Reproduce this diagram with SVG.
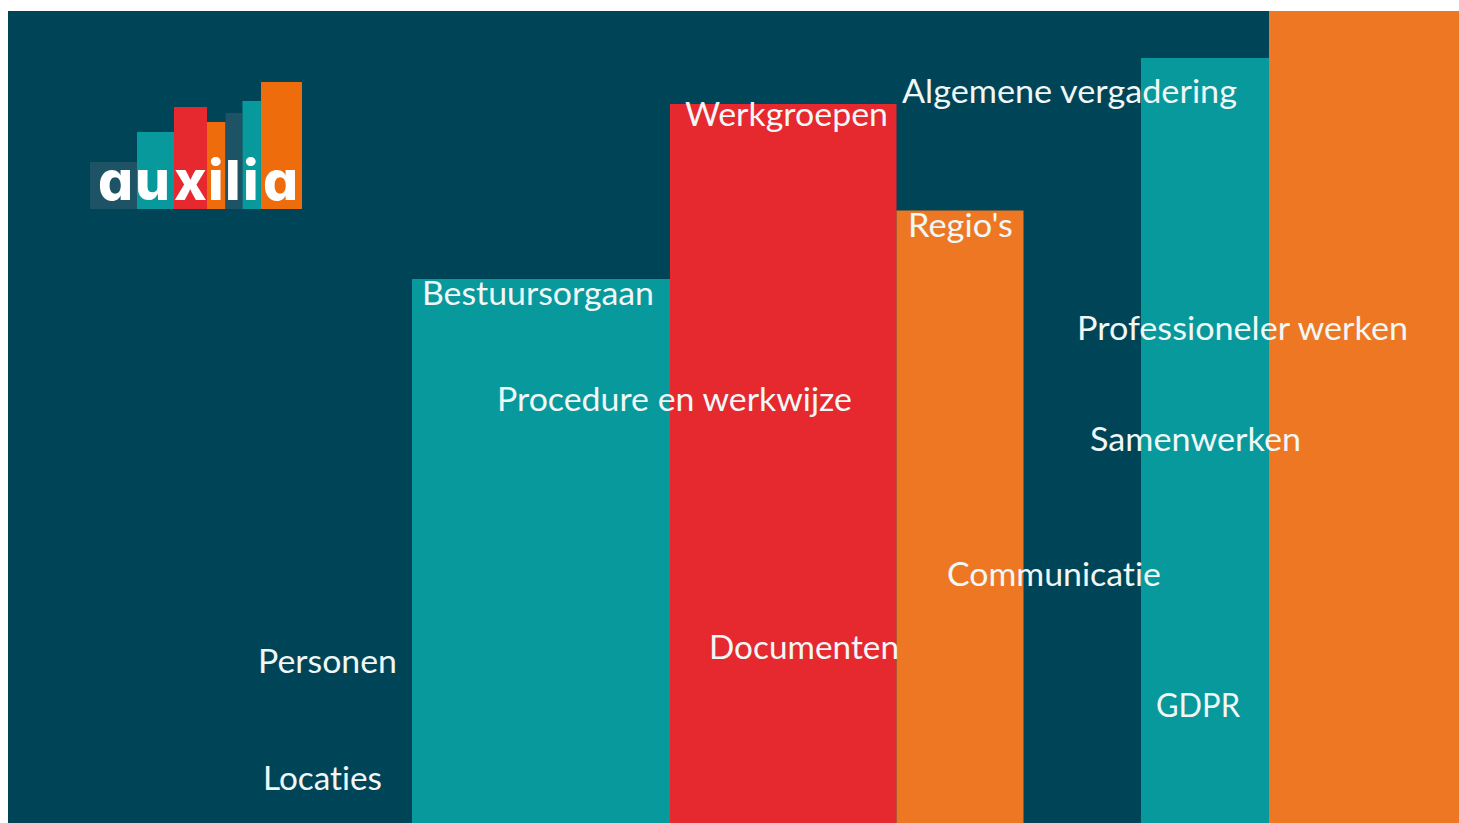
<svg xmlns="http://www.w3.org/2000/svg" width="1459" height="823" viewBox="0 0 1459 823">
<style>
.t{font-family:"Lato","Open Sans","Liberation Sans",sans-serif;font-size:33px;fill:#f0f7f7;font-variant-ligatures:none}
.teal{fill:#08999c}.red{fill:#e6282f}.org{fill:#ee7723}.dark{fill:#004557}
.lo{fill:#ee6c0b}.ld{fill:#1e5265}
.logo{font-family:"Inter","Lato","Liberation Sans",sans-serif;font-weight:800;font-size:55px;fill:#fff;font-feature-settings:"cv11"}
</style>
<rect width="1459" height="823" fill="#fff"/>
<rect class="dark" x="8" y="11" width="1451" height="812"/>
<g id="bars">
<rect class="teal" x="412" y="279" width="258" height="544"/>
<rect class="red" x="670" y="104" width="226.500" height="719"/>
<rect class="org" x="896.500" y="210.500" width="127" height="612.500"/>
<rect class="teal" x="1141" y="58" width="128" height="765"/>
<rect class="org" x="1269" y="11" width="190" height="812"/>
</g>
<g id="logo">
<rect class="ld" x="90" y="162" width="47" height="47"/>
<rect class="teal" x="137" y="132" width="37" height="77"/>
<rect class="red" x="174" y="107" width="33" height="102"/>
<rect class="lo" x="207" y="122" width="18.500" height="87"/>
<rect class="ld" x="225.500" y="113" width="17" height="96"/>
<rect class="teal" x="242.500" y="101" width="18.500" height="108"/>
<rect class="lo" x="261" y="82" width="41" height="127"/>
<text class="logo" x="98 135 174 208 225 243 263" y="200">auxilia</text>
</g>
<g id="labels">
<text class="t" id="werkgroepen" x="685" y="126" textLength="203" lengthAdjust="spacingAndGlyphs">Werkgroepen</text>
<text class="t" id="algemene" x="902" y="103" textLength="335" lengthAdjust="spacingAndGlyphs">Algemene vergadering</text>
<text class="t" id="regios" x="908" y="237" textLength="105" lengthAdjust="spacingAndGlyphs">Regio's</text>
<text class="t" id="bestuursorgaan" x="422" y="305" textLength="232" lengthAdjust="spacingAndGlyphs">Bestuursorgaan</text>
<text class="t" id="professioneler" x="1077" y="340" textLength="331" lengthAdjust="spacingAndGlyphs">Professioneler werken</text>
<text class="t" id="procedure" x="497" y="411" textLength="355" lengthAdjust="spacingAndGlyphs">Procedure en werkwijze</text>
<text class="t" id="samenwerken" x="1090" y="451" textLength="211" lengthAdjust="spacingAndGlyphs">Samenwerken</text>
<text class="t" id="communicatie" x="947" y="586" textLength="214" lengthAdjust="spacingAndGlyphs">Communicatie</text>
<text class="t" id="documenten" x="709" y="659" textLength="190" lengthAdjust="spacingAndGlyphs">Documenten</text>
<text class="t" id="personen" x="258" y="673" textLength="139" lengthAdjust="spacingAndGlyphs">Personen</text>
<text class="t" id="gdpr" x="1156" y="717" textLength="84" lengthAdjust="spacingAndGlyphs">GDPR</text>
<text class="t" id="locaties" x="263" y="790" textLength="119" lengthAdjust="spacingAndGlyphs">Locaties</text>
</g>
</svg>
